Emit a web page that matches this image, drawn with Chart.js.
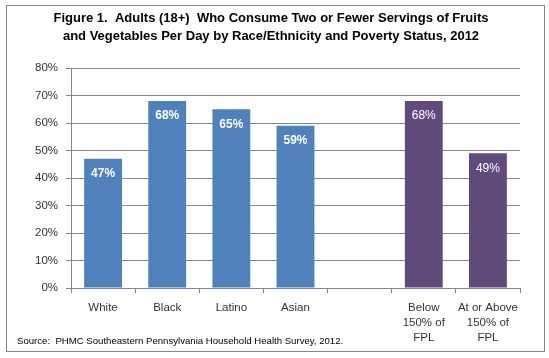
<!DOCTYPE html>
<html>
<head>
<meta charset="utf-8">
<script src="https://cdn.jsdelivr.net/npm/chart.js@4"></script>
<style>
  html, body { margin: 0; padding: 0; background: #fff; }
  #wrap { position: relative; width: 549px; height: 358px; }
  #frame { position: absolute; left: 6px; top: 5px; width: 537px; height: 345px; border: 1px solid #868686; pointer-events: none; }
</style>
</head>
<body>
<div id="wrap">
  <canvas id="chart" width="549" height="358"></canvas>
  <div id="frame"></div>
</div>
<script>
const TITLE_LINES = [
  "Figure 1.  Adults (18+)  Who Consume Two or Fewer Servings of Fruits",
  "and Vegetables Per Day by Race/Ethnicity and Poverty Status, 2012",
];
const SOURCE_TEXT = "Source:  PHMC Southeastern Pennsylvania Household Health Survey, 2012.";
const CATEGORIES = [["White"], ["Black"], ["Latino"], ["Asian"], [""], ["Below", "150% of", "FPL"], ["At or Above", "150% of", "FPL"]];
const VALUES = [47, 68, 65, 59, null, 68, 49];
const Y_TICKS = [0, 10, 20, 30, 40, 50, 60, 70, 80];

const BLUE = "#4F81BD";
const PURPLE = "#604A7B";
const BAR_COLORS = ["race", "race", "race", "race", "race", "poverty", "poverty"].map((g) => (g === "race" ? BLUE : PURPLE));

const FONT = '"Liberation Sans", Arial, sans-serif';

const decorPlugin = {
  id: "decor",
  afterDraw(chart) {
    const ctx = chart.ctx;
    ctx.save();
    ctx.fillStyle = "#000";
    ctx.textAlign = "center";
    ctx.textBaseline = "middle";
    ctx.font = `bold 13px ${FONT}`;
    ctx.fillText(TITLE_LINES[0], 271, 18);
    ctx.fillText(TITLE_LINES[1], 271, 36);
    ctx.textAlign = "left";
    ctx.font = `9.6px ${FONT}`;
    ctx.fillText(SOURCE_TEXT, 17, 341);

    const meta = chart.getDatasetMeta(0);
    meta.data.forEach((bar, i) => {
      const v = VALUES[i];
      if (v == null) return;
      ctx.fillStyle = "#fff";
      ctx.textAlign = "center";
      ctx.font = `${BAR_COLORS[i] === BLUE ? "bold " : ""}12px ${FONT}`;
      ctx.fillText(`${v}%`, bar.x, bar.y + 15);
    });
    ctx.restore();
  },
};

new Chart(document.getElementById("chart"), {
  type: "bar",
  data: {
    labels: CATEGORIES,
    datasets: [
      {
        data: VALUES,
        backgroundColor: BAR_COLORS,
        barPercentage: 0.59,
        categoryPercentage: 1,
      },
    ],
  },
  options: {
    responsive: false,
    animation: false,
    layout: { padding: { top: 68, right: 29, left: 0, bottom: 0 } },
    plugins: { legend: { display: false }, tooltip: { enabled: false }, title: { display: false } },
    scales: {
      x: {
        afterFit(s) { s.height = 70; },
        grid: { drawOnChartArea: false, color: "#868686", tickLength: 5, offset: true },
        border: { color: "#868686" },
        ticks: { color: "#333", font: { family: FONT, size: 11.5, lineHeight: 1.3 }, padding: 7, maxRotation: 0 },
      },
      y: {
        min: 0,
        max: 80,
        afterFit(s) { s.width = 71; },
        afterBuildTicks(s) { s.ticks = Y_TICKS.map((v) => ({ value: v })); },
        grid: { color: "#868686", tickLength: 5 },
        border: { color: "#868686" },
        ticks: { color: "#333", font: { family: FONT, size: 11.5 }, padding: 8, callback: (v) => `${v}%` },
      },
    },
  },
  plugins: [decorPlugin],
});
</script>
</body>
</html>
